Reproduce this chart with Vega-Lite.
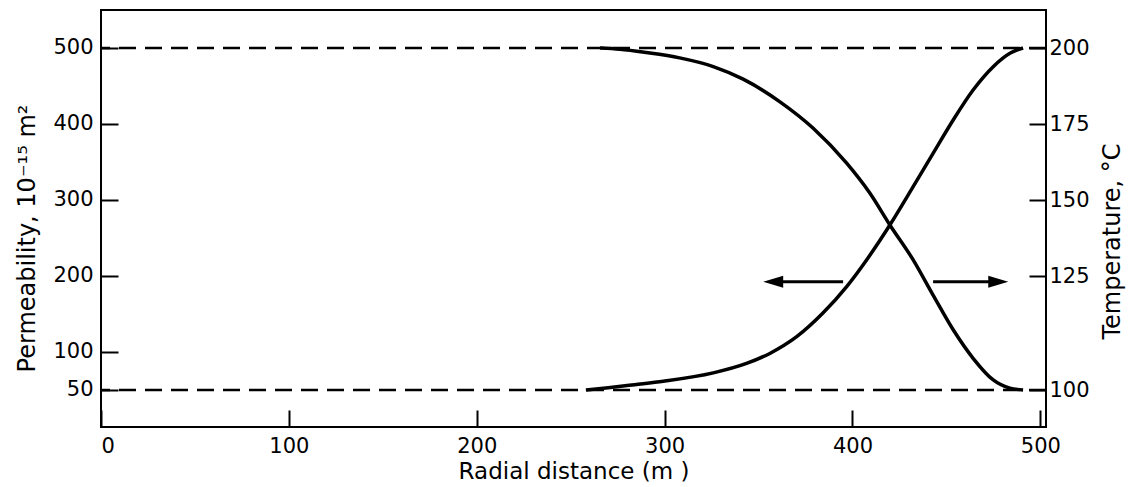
{
  "$schema": "https://vega.github.io/schema/vega-lite/v6.json",
  "width": 945,
  "height": 417,
  "autosize": {"type": "none"},
  "padding": {"left": 101, "top": 10, "right": 82, "bottom": 60},
  "background": "white",
  "datasets": {
    "curves": [
      {"r": 258.1, "value": 50, "quantity": "Permeability"},
      {"r": 270.0, "value": 53.0, "quantity": "Permeability"},
      {"r": 284.0, "value": 57.0, "quantity": "Permeability"},
      {"r": 299.3, "value": 61.5, "quantity": "Permeability"},
      {"r": 325.9, "value": 72.5, "quantity": "Permeability"},
      {"r": 343.6, "value": 84.9, "quantity": "Permeability"},
      {"r": 356.0, "value": 98.1, "quantity": "Permeability"},
      {"r": 370.3, "value": 120.1, "quantity": "Permeability"},
      {"r": 384.4, "value": 151.5, "quantity": "Permeability"},
      {"r": 396.9, "value": 186.0, "quantity": "Permeability"},
      {"r": 407.5, "value": 221.1, "quantity": "Permeability"},
      {"r": 419.9, "value": 267.1, "quantity": "Permeability"},
      {"r": 432.3, "value": 317.5, "quantity": "Permeability"},
      {"r": 442.9, "value": 361.4, "quantity": "Permeability"},
      {"r": 453.6, "value": 405.3, "quantity": "Permeability"},
      {"r": 464.2, "value": 444.7, "quantity": "Permeability"},
      {"r": 474.9, "value": 475.4, "quantity": "Permeability"},
      {"r": 483.8, "value": 493.0, "quantity": "Permeability"},
      {"r": 490.8, "value": 500, "quantity": "Permeability"},
      {"r": 265.6, "value": 200, "quantity": "Temperature"},
      {"r": 276.2, "value": 199.6, "quantity": "Temperature"},
      {"r": 290.4, "value": 198.5, "quantity": "Temperature"},
      {"r": 308.0, "value": 196.75, "quantity": "Temperature"},
      {"r": 325.9, "value": 193.9, "quantity": "Temperature"},
      {"r": 341.8, "value": 189.75, "quantity": "Temperature"},
      {"r": 361.4, "value": 182.3, "quantity": "Temperature"},
      {"r": 379.1, "value": 173.6, "quantity": "Temperature"},
      {"r": 396.9, "value": 162.1, "quantity": "Temperature"},
      {"r": 409.3, "value": 152.2, "quantity": "Temperature"},
      {"r": 419.9, "value": 141.8, "quantity": "Temperature"},
      {"r": 432.3, "value": 130.3, "quantity": "Temperature"},
      {"r": 442.9, "value": 120.8, "quantity": "Temperature"},
      {"r": 453.6, "value": 113.2, "quantity": "Temperature"},
      {"r": 464.2, "value": 106.95, "quantity": "Temperature"},
      {"r": 474.9, "value": 102.2, "quantity": "Temperature"},
      {"r": 483.8, "value": 100.4, "quantity": "Temperature"},
      {"r": 490.8, "value": 100, "quantity": "Temperature"}
    ],
    "refs": [
      {"permeability": 500},
      {"permeability": 50}
    ],
    "arrows": [
      {"r": 357.0, "r2": 395.0, "permeability": 192.5, "direction": "left"},
      {"r": 442.9, "r2": 478.0, "permeability": 192.5, "direction": "right"}
    ],
    "heads": [
      {"r": 357.8, "permeability": 192.5, "direction": "left"},
      {"r": 477.6, "permeability": 192.5, "direction": "right"}
    ]
  },
  "layer": [
    {
      "layer": [
        {
          "data": {"name": "refs"},
          "mark": {"type": "rule", "stroke": "black", "strokeWidth": 2.5, "strokeDash": [17, 9]},
          "encoding": {
            "y": {
              "field": "permeability", "type": "quantitative",
              "scale": {"domain": [1.3, 550], "nice": false, "zero": false},
              "axis": {
                "values": [50, 100, 200, 300, 400, 500],
                "title": "Permeability, 10⁻¹⁵ m²",
                "labelPadding": 25,
                "titleFontSize": 24,
                "titleX": -62, "titleY": 228, "titleAngle": 270, "titleBaseline": "bottom"
              }
            }
          }
        },
        {
          "data": {"name": "curves"},
          "transform": [{"filter": "datum.quantity === 'Permeability'"}],
          "mark": {"type": "line", "stroke": "black", "strokeWidth": 3.5, "interpolate": "monotone"},
          "encoding": {
            "x": {
              "field": "r", "type": "quantitative", "title": "Radial distance (m )",
              "scale": {"domain": [0, 503], "nice": false, "zero": false},
              "axis": {"values": [0, 100, 200, 300, 400, 500], "titleBaseline": "alphabetic", "titleY": 51, "labelPadding": 25, "titleFontSize": 23}
            },
            "y": {"field": "value", "type": "quantitative", "title": "Permeability, 10⁻¹⁵ m²"}
          }
        },
        {
          "data": {"name": "arrows"},
          "mark": {"type": "rule", "stroke": "black", "strokeWidth": 3},
          "encoding": {
            "x": {"field": "r", "type": "quantitative", "title": "Radial distance (m )"},
            "x2": {"field": "r2"},
            "y": {"field": "permeability", "type": "quantitative", "title": "Permeability, 10⁻¹⁵ m²"}
          }
        },
        {
          "data": {"name": "heads"},
          "transform": [{"filter": "datum.direction === 'left'"}],
          "mark": {"type": "point", "shape": "M -1 0 L 1 -0.6 L 1 0.6 Z", "filled": true, "fill": "black", "stroke": null, "size": 400, "opacity": 1},
          "encoding": {
            "x": {"field": "r", "type": "quantitative", "title": "Radial distance (m )"},
            "y": {"field": "permeability", "type": "quantitative", "title": "Permeability, 10⁻¹⁵ m²"}
          }
        },
        {
          "data": {"name": "heads"},
          "transform": [{"filter": "datum.direction === 'right'"}],
          "mark": {"type": "point", "shape": "M 1 0 L -1 -0.6 L -1 0.6 Z", "filled": true, "fill": "black", "stroke": null, "size": 400, "opacity": 1},
          "encoding": {
            "x": {"field": "r", "type": "quantitative", "title": "Radial distance (m )"},
            "y": {"field": "permeability", "type": "quantitative", "title": "Permeability, 10⁻¹⁵ m²"}
          }
        }
      ]
    },
    {
      "data": {"name": "curves"},
      "transform": [{"filter": "datum.quantity === 'Temperature'"}],
      "mark": {"type": "line", "stroke": "black", "strokeWidth": 3.5, "interpolate": "monotone"},
      "encoding": {
        "x": {"field": "r", "type": "quantitative", "title": "Radial distance (m )"},
        "y": {
          "field": "value", "type": "quantitative",
          "scale": {"domain": [91.89, 100, 125, 200, 212.5], "range": [417, 380, 266, 38, 0], "nice": false, "zero": false},
          "axis": {
            "orient": "right",
            "values": [100, 125, 150, 175, 200],
            "title": "Temperature, °C",
            "labelPadding": 20,
            "titleFontSize": 24,
            "titleAngle": 270, "titleBaseline": "top", "titleX": 54, "titleY": 231
          }
        }
      }
    }
  ],
  "resolve": {"scale": {"y": "independent"}, "axis": {"y": "independent"}},
  "config": {
    "view": {"stroke": "black", "strokeWidth": 2},
    "axis": {
      "domain": false, "grid": false,
      "ticks": true, "tickColor": "black", "tickWidth": 2, "tickSize": -17,
      "labelFont": "DejaVu Sans", "labelFontSize": 21, "labelColor": "black",
      "titleFont": "DejaVu Sans", "titleFontSize": 23, "titleColor": "black", "titleFontWeight": "normal"
    }
  }
}
